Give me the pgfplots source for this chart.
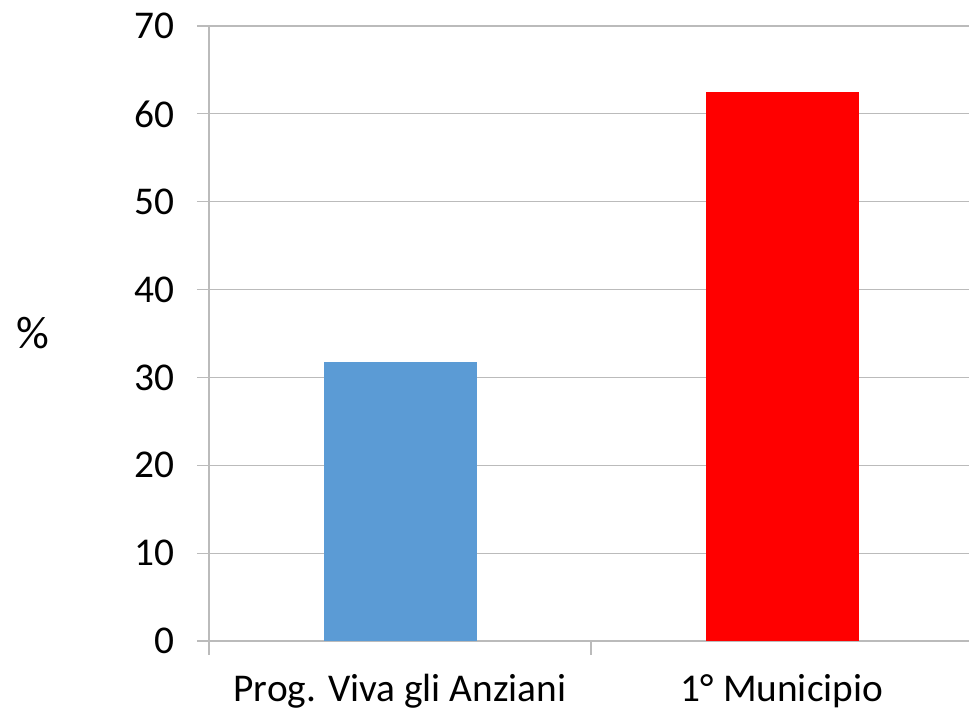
\documentclass[border=0pt]{standalone}
\usepackage{pgfplots}
\pgfplotsset{compat=1.18}
\usepackage{fontspec}
\setmainfont{Carlito}
\definecolor{barblue}{HTML}{5B9BD5}
\definecolor{barred}{HTML}{FF0000}
\definecolor{gridgray}{HTML}{BBBBBB}
\begin{document}
\begin{tikzpicture}
\useasboundingbox (0,0) rectangle (969bp,710bp);
\begin{axis}[
  at={(209bp,69bp)}, anchor=south west,
  scale only axis,
  width=764bp, height=615bp,
  xmin=-0.5, xmax=1.5,
  ymin=0, ymax=70,
  ytick={0,10,...,70},
  xtick={0,1},
  xticklabels={Prog. Viva gli Anziani, 1° Municipio},
  minor xtick={-0.5,0.5,1.5},
  major x tick style={draw=none},
  axis x line*=bottom,
  axis y line*=left,
  axis line style={draw=gridgray, line width=1.2bp},
  tick style={draw=gridgray, line width=1.2bp},
  tick align=outside,
  major tick length=12bp,
  minor tick length=14bp,
  ymajorgrids,
  grid style={draw=gridgray, line width=1.2bp},
  font=\fontsize{39.5}{46}\selectfont,
  /pgf/number format/assume math mode=true,
  yticklabel style={font=\fontsize{39.5}{46}\selectfont, xshift=-19bp},
  xticklabel style={font=\fontsize{39.5}{46}\selectfont, yshift=-18bp},
  ylabel={\%},
  ylabel style={font=\fontsize{46}{52}\selectfont, rotate=-90, at={(axis description cs:0,0.5)}, anchor=center, xshift=-176bp},
  ybar, bar width=153bp,
  bar shift=0pt,
  clip=false,
]
\addplot[draw=none, fill=barblue] coordinates {(0,31.8)};
\addplot[draw=none, fill=barred] coordinates {(1,62.5)};
\end{axis}
\end{tikzpicture}
\end{document}
